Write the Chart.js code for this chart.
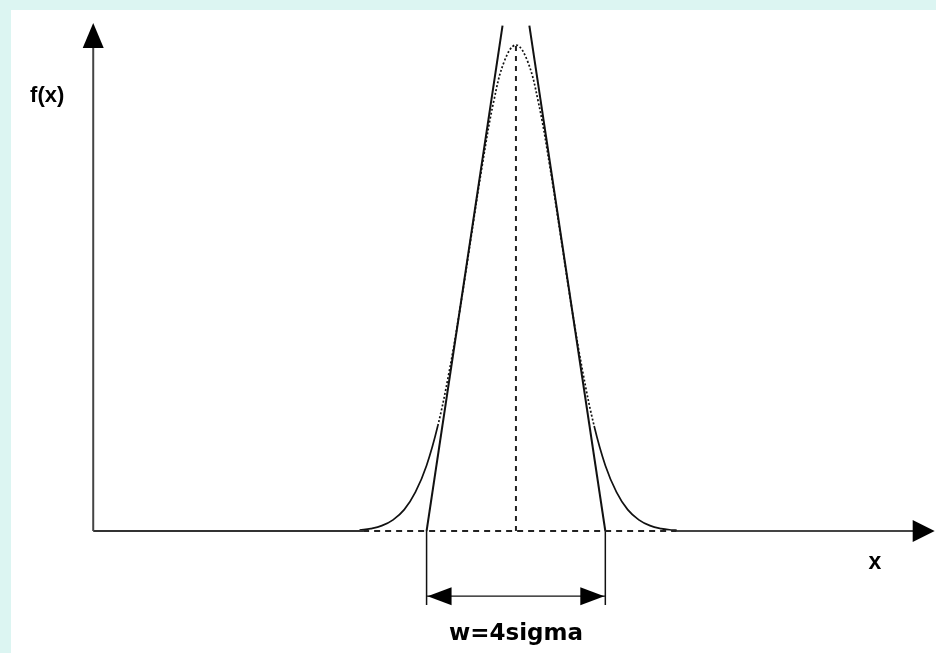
<!DOCTYPE html>
<html>
<head>
<meta charset="utf-8">
<script src="https://cdn.jsdelivr.net/npm/chart.js@4.4.1/dist/chart.umd.min.js"></script>
<style>
  html, body { margin: 0; padding: 0; background: #dcf5f2; }
  #box { position: absolute; left: 11px; top: 10px; width: 925px; height: 643px; background: #fff; }
</style>
</head>
<body>
<div id="box"><canvas id="myChart" width="925" height="643"></canvas></div>
<script>
// x in units of sigma (mu = 0), y normalised to peak height = 1
let curveX = [-3.5, -3.25, -3, -2.75, -2.5, -2.25, -2, -1.75, -1.5, -1.25, -1, -0.75, -0.5, -0.25, 0,
              0.25, 0.5, 0.75, 1, 1.25, 1.5, 1.75, 2, 2.25, 2.5, 2.75, 3, 3.25, 3.5, 3.6];
let curveY = [0.002, 0.005, 0.011, 0.023, 0.044, 0.080, 0.135, 0.216, 0.325, 0.458, 0.607, 0.755, 0.883, 0.969, 1,
              0.969, 0.883, 0.755, 0.607, 0.458, 0.325, 0.216, 0.135, 0.080, 0.044, 0.023, 0.011, 0.005, 0.002, 0.0015];
let leftTangent = [[-2, 0], [-0.3, 1.04]];
let rightTangent = [[2, 0], [0.3, 1.04]];
let axisOrigin = [-9.46, 0];
let yAxisTop = 1.045;
let xAxisEnd = 9.37;
let dashFrom = -3.42, dashTo = 3.6;
let dimY = -0.134, dimBottom = -0.152;
let labels = [
  { text: 'f(x)', x: -10.49, y: 0.895, font: 'bold 22px "Liberation Sans", Arial, sans-serif' },
  { text: 'x', x: 8.03, y: -0.066, font: 'bold 23px "Liberation Sans", Arial, sans-serif' },
  { text: 'w=4sigma', x: 0, y: -0.212, font: 'bold 23px "DejaVu Sans", sans-serif' }
];

let pts = (xs, ys) => xs.map((x, i) => ({ x: x, y: ys[i] }));
let pairs = (arr) => arr.map(p => ({ x: p[0], y: p[1] }));

let line = (data, extra) => Object.assign({
  data: data, showLine: true, pointRadius: 0, borderColor: '#111', borderWidth: 1.5, tension: 0
}, extra || {});

let arrows = {
  id: 'arrows',
  afterDatasetsDraw(chart) {
    let c = chart.ctx, xs = chart.scales.x, ys = chart.scales.y;
    let X = v => xs.getPixelForValue(v), Y = v => ys.getPixelForValue(v);
    let tri = (a, b, d) => { c.beginPath(); c.moveTo(a[0], a[1]); c.lineTo(b[0], b[1]); c.lineTo(d[0], d[1]); c.closePath(); c.fill(); };
    c.save();
    c.fillStyle = '#000';
    // y axis
    let ax = X(axisOrigin[0]), ty = Y(yAxisTop);
    tri([ax, ty], [ax - 10.5, ty + 25], [ax + 10.5, ty + 25]);
    // x axis
    let tx = X(xAxisEnd), by = Y(0);
    tri([tx, by], [tx - 22, by - 11], [tx - 22, by + 11]);
    // dimension arrow
    let dl = X(-2), dr = X(2), dy = Y(dimY);
    tri([dl + 1, dy], [dl + 25, dy - 9], [dl + 25, dy + 9]);
    tri([dr - 1, dy], [dr - 25, dy - 9], [dr - 25, dy + 9]);
    // labels
    c.fillStyle = '#000';
    c.textAlign = 'center';
    c.textBaseline = 'middle';
    labels.forEach(l => { c.font = l.font; c.fillText(l.text, X(l.x), Y(l.y)); });
    c.restore();
  }
};

let ctx = document.getElementById('myChart').getContext('2d');
let myChart = new Chart(ctx, {
  type: 'scatter',
  data: {
    datasets: [
      // y axis
      line(pairs([axisOrigin, [axisOrigin[0], yAxisTop - 0.04]]), { borderColor: '#444', borderWidth: 2 }),
      // x axis: solid, dashed in the middle, solid
      line(pairs([axisOrigin, [dashFrom, 0]]), { borderColor: '#333', borderWidth: 2 }),
      line(pairs([[dashFrom, 0], [dashTo, 0]]), { borderColor: '#222', borderWidth: 2, borderDash: [6, 5] }),
      line(pairs([[dashTo, 0], [xAxisEnd - 0.4, 0]]), { borderColor: '#444', borderWidth: 2 }),
      // centre line
      line(pairs([[0, 0], [0, 1]]), { borderColor: '#222', borderWidth: 2, borderDash: [5, 5] }),
      // gaussian
      line(pts(curveX, curveY), {
        tension: 0.4, borderWidth: 1.7,
        segment: { borderDash: s => (Math.abs(s.p0.parsed.x) < 1.9 && Math.abs(s.p1.parsed.x) < 1.9) ? [2, 2] : undefined }
      }),
      // tangents
      line(pairs(leftTangent), { borderWidth: 2 }),
      line(pairs(rightTangent), { borderWidth: 2 }),
      // extension lines and dimension line
      line(pairs([[-2, 0], [-2, dimBottom]])),
      line(pairs([[2, 0], [2, dimBottom]])),
      line(pairs([[-2, dimY], [2, dimY]]), { borderWidth: 1.2 })
    ]
  },
  options: {
    responsive: false,
    animation: false,
    layout: { padding: 0 },
    scales: {
      x: { type: 'linear', display: false, min: -11.30, max: 9.40 },
      y: { type: 'linear', display: false, min: -0.251, max: 1.072 }
    },
    plugins: { legend: { display: false }, tooltip: { enabled: false } }
  },
  plugins: [arrows]
});
</script>
</body>
</html>
